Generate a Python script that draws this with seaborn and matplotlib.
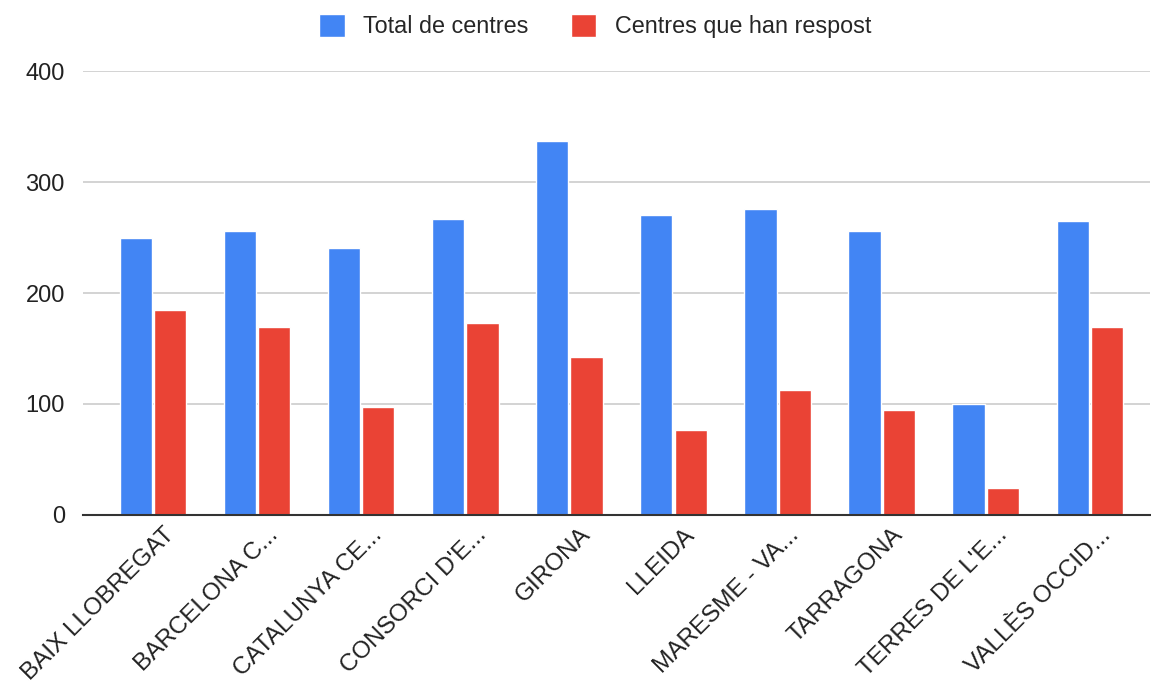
import matplotlib
matplotlib.use("Agg")
import matplotlib.pyplot as plt
import matplotlib.transforms as mtransforms
import seaborn as sns
import pandas as pd

sns.set_theme(style="white")
plt.rcParams['font.family'] = ['Liberation Sans', 'DejaVu Sans']

categories = ["BAIX LLOBREGAT", "BARCELONA C...", "CATALUNYA CE...", "CONSORCI D'E...",
              "GIRONA", "LLEIDA", "MARESME - VA...", "TARRAGONA", "TERRES DE L'E...",
              "VALLÈS OCCID..."]
total_centres = [250, 256, 241, 267, 337, 270, 276, 256, 100, 265]
centres_resposta = [185, 169, 97, 173, 142, 77, 113, 95, 24, 169]
series_names = ["Total de centres", "Centres que han respost"]
colors = ["#4285F4", "#EA4335"]

df = pd.DataFrame({
    "zona": categories * 2,
    "valor": total_centres + centres_resposta,
    "serie": [series_names[0]] * len(categories) + [series_names[1]] * len(categories),
})

fig = plt.figure(figsize=(11.51, 6.83), dpi=100)
ax = fig.add_axes([0.0721, 0.246, 0.927, 0.650])

sns.barplot(data=df, x="zona", y="valor", hue="serie", palette=colors,
            width=0.66, gap=0.06, saturation=1, ax=ax, legend=True)

ax.set_ylim(0, 400)
ax.set_xlim(-0.672, 9.577)
ax.set_yticks([0, 100, 200, 300, 400])
ax.yaxis.grid(True, color="#cccccc", linewidth=1.2)
ax.set_axisbelow(True)
for s in ["top", "right", "left"]:
    ax.spines[s].set_visible(False)
ax.spines["bottom"].set_color("#333333")
ax.spines["bottom"].set_linewidth(1.5)
ax.spines["bottom"].set_zorder(5)
ax.tick_params(axis="y", length=0, labelsize=17, colors="#222222", pad=13)
ax.tick_params(axis="x", length=0, labelsize=17.5, colors="#222222")
ax.set_xlabel("")
ax.set_ylabel("")
shift = mtransforms.ScaledTranslation(10 / 100, -4 / 100, fig.dpi_scale_trans)
for lab in ax.get_xticklabels():
    lab.set_rotation(45)
    lab.set_ha("right")
    lab.set_rotation_mode("anchor")
    lab.set_transform(lab.get_transform() + shift)

handles, labels = ax.get_legend_handles_labels()
ax.get_legend().remove()
fig.legend(handles, labels, loc="upper center", bbox_to_anchor=(0.517, 1.01),
           ncol=2, frameon=False, fontsize=16.8, handlelength=1.1, handleheight=1.1,
           columnspacing=1.8, handletextpad=0.8)

fig.savefig("out.png", dpi=100)
